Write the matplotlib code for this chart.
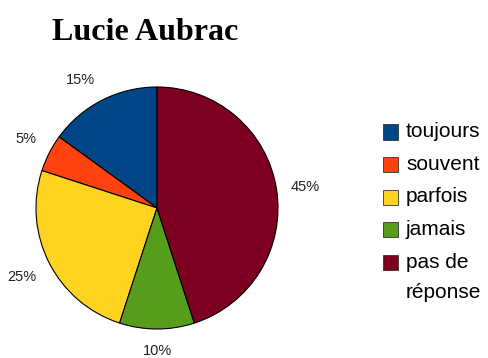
import matplotlib
matplotlib.use("Agg")
import numpy as np
import matplotlib.pyplot as plt
from matplotlib.patches import Rectangle

# Survey answers for "Lucie Aubrac"
categories = ["toujours", "souvent", "parfois", "jamais", "pas de\nréponse"]
percentages = [15, 5, 25, 10, 45]
colors = ["#004586", "#ff420e", "#ffd320", "#579d1c", "#7e0021"]

W, H = 488, 358
fig = plt.figure(figsize=(W / 100, H / 100), dpi=100)
fig.patch.set_facecolor("white")


def fx(px):
    return px / W


def fy(py):
    return 1 - py / H


ax = fig.add_axes([fx(36), 29 / H, 242 / W, 242 / H])
wedges, _ = ax.pie(
    percentages,
    colors=colors,
    startangle=90,
    counterclock=True,
    radius=1.0,
    wedgeprops=dict(edgecolor="black", linewidth=0.8),
)
ax.set_xlim(-1, 1)
ax.set_ylim(-1, 1)
ax.set_aspect("equal")

# Percentage labels just outside each wedge, anchored by their inner corner
label_r = 1.12
for w, pct in zip(wedges, percentages):
    mid = np.deg2rad((w.theta1 + w.theta2) / 2)
    c, s = np.cos(mid), np.sin(mid)
    ha = "center" if abs(c) < 0.3 else ("left" if c > 0 else "right")
    va = "center" if abs(s) < 0.3 else ("bottom" if s > 0 else "top")
    ax.text(label_r * c, label_r * s, f"{pct}%", ha=ha, va=va,
            family="Liberation Sans", fontsize=10.5, color="#222222")

fig.text(fx(145), fy(40), "Lucie Aubrac", family="Liberation Serif",
         fontweight="bold", fontsize=23, ha="center", va="baseline")

# Legend: colour box plus label, multi-line labels keep the box on the first line
row_y = 132
row_step = 32.5
line_step = 30
box = 15
for label, color in zip(categories, colors):
    fig.patches.append(Rectangle((fx(383), fy(row_y + box / 2)), box / W, box / H,
                                 transform=fig.transFigure, facecolor=color,
                                 edgecolor="#333333", linewidth=0.6))
    lines = label.split("\n")
    for k, line in enumerate(lines):
        fig.text(fx(406), fy(row_y + k * line_step), line,
                 family="Liberation Sans", fontsize=15, ha="left", va="center")
    row_y += row_step + (len(lines) - 1) * line_step

fig.savefig("out.png", dpi=100, facecolor="white")
